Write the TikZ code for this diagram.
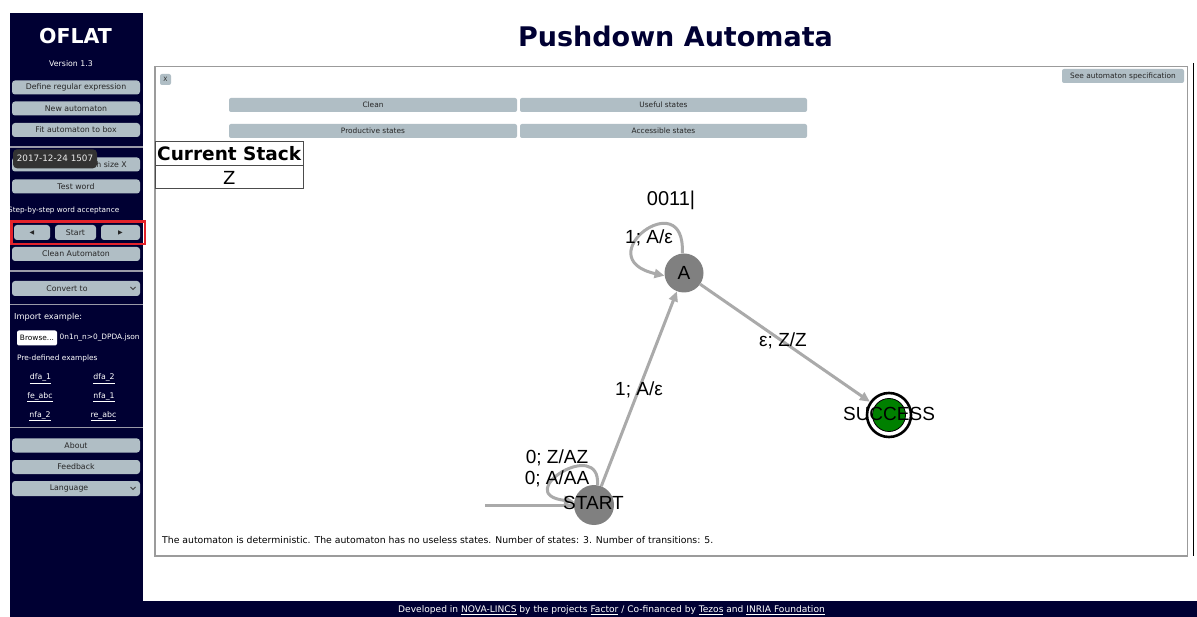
\documentclass[tikz,border=0pt]{standalone}
\usepackage{fontspec}
\setmainfont{DejaVu Sans}
\newfontfamily\graphfont{Liberation Sans}
\usetikzlibrary{arrows.meta}
\definecolor{navy}{HTML}{000033}
\definecolor{btncol}{HTML}{B0BEC5}
\definecolor{edgecol}{HTML}{AAAAAA}
\definecolor{statecol}{HTML}{808080}
\definecolor{acccol}{HTML}{008000}
\definecolor{sepcol}{HTML}{9A9AA8}
\definecolor{boxcol}{HTML}{9B9B9B}
\definecolor{tipcol}{HTML}{333333}
\definecolor{redbox}{HTML}{E3222B}
\tikzset{
  sbtn/.style={fill=btncol, rounded corners=3pt, inner sep=0pt, minimum width=128pt,
    minimum height=14pt, font=\fontsize{7.8}{9}\selectfont, text=black!85},
  pbtn/.style={fill=btncol, rounded corners=2pt, inner sep=0pt, minimum height=14pt,
    font=\fontsize{7.4}{9}\selectfont, text=black!85},
  sidetext/.style={text=white, inner sep=0pt, font=\fontsize{7.8}{9}\selectfont},
  sidelink/.style={text=white, inner sep=0pt, font=\fontsize{7.8}{9}\selectfont},
  sep/.style={draw=sepcol, line width=1.5pt},
  state/.style={circle, fill=statecol, minimum size=39pt, inner sep=0pt},
  edge/.style={draw=edgecol, line width=3pt, -{Triangle[length=10pt, width=9pt]}},
  plainedge/.style={draw=edgecol, line width=3pt},
  lbl/.style={inner sep=0pt, font=\graphfont\fontsize{19}{22}\selectfont, text=black},
}
\begin{document}
\begin{tikzpicture}[x=1pt, y=-1pt]
\useasboundingbox (0,0) rectangle (1197,617);
\fill[white] (0,0) rectangle (1197,617);

% sidebar and footer band
\fill[navy] (10,13) rectangle (143,617);
\fill[navy] (10,601) rectangle (1197,617);

\node[text=white, font=\bfseries\fontsize{20.5}{24}\selectfont, inner sep=0pt] (brand) at (75.5,36) {OFLAT};
\node[sidetext] (ver) at (71,64) {Version 1.3};

\node[sbtn] (defre) at (76,87.5) {Define regular expression};
\node[sbtn] (newaut) at (76,108.5) {New automaton};
\node[sbtn] (fitbox) at (76,130) {Fit automaton to box};
\draw[sep] (10,147) -- (143,147);
\node[sbtn] (gen) at (76,164.5) {};
\node[inner sep=0pt, anchor=east, font=\fontsize{7.8}{9}\selectfont, text=black!85] (gentxt) at (127,164.5) {h size X};
\node[sbtn] (testw) at (76,186.5) {Test word};
\node[sidetext, anchor=east, font=\fontsize{7.3}{9}\selectfont] (steptxt) at (119.5,210) {Step-by-step word acceptance};

\node[sbtn, minimum width=36pt, minimum height=15pt] (prev) at (32,232.5) {\fontsize{6}{7}\selectfont ◀};
\node[sbtn, minimum width=41pt, minimum height=15pt] (startbtn) at (75.5,232.5) {Start};
\node[sbtn, minimum width=39pt, minimum height=15pt] (next) at (120.5,232.5) {\fontsize{6}{7}\selectfont ▶};
\draw[redbox, line width=2.2pt] (11.5,221.5) rectangle (145,244);

\node[sbtn] (cleanaut) at (76,254) {Clean Automaton};
\draw[sep] (10,271) -- (143,271);
\node[sbtn, minimum height=15pt] (convert) at (76,288.5) {};
\node[inner sep=0pt, font=\fontsize{7.8}{9}\selectfont, text=black!85] (convtxt) at (67,288.5) {Convert to};
\draw[black!75, line width=1pt] (130.5,287) -- (133,289.5) -- (135.5,287);
\draw[sep] (10,304.5) -- (143,304.5);

\node[sidetext, anchor=west, font=\fontsize{8.2}{9}\selectfont] (imp) at (14,317) {Import example:};
\node[fill=white, rounded corners=2pt, minimum width=40pt, minimum height=15pt, inner sep=0pt,
  font=\fontsize{7.4}{9}\selectfont] (browse) at (37,338) {Browse...};
\node[sidetext, anchor=west, font=\fontsize{7.4}{9}\selectfont] (fname) at (59.5,338) {0n1n\_n>0\_DPDA.json};
\node[sidetext, anchor=west, font=\fontsize{7.4}{9}\selectfont] (predef) at (17,358.5) {Pre-defined examples};
\node[sidelink] (ex1) at (40.5,378.5) {\underline{dfa\_1}};
\node[sidelink] (ex2) at (104,378.5) {\underline{dfa\_2}};
\node[sidelink] (ex3) at (40,397) {\underline{fe\_abc}};
\node[sidelink] (ex4) at (104,397) {\underline{nfa\_1}};
\node[sidelink] (ex5) at (40,416) {\underline{nfa\_2}};
\node[sidelink] (ex6) at (103.5,416) {\underline{re\_abc}};
\draw[sep] (10,427.5) -- (143,427.5);

\node[sbtn] (about) at (76,445.5) {About};
\node[sbtn] (feedback) at (76,467) {Feedback};
\node[sbtn, minimum height=15pt] (lang) at (76,488.5) {};
\node[inner sep=0pt, font=\fontsize{7.8}{9}\selectfont, text=black!85] (langtxt) at (69,488.5) {Language};
\draw[black!75, line width=1pt] (130.5,487) -- (133,489.5) -- (135.5,487);

% tooltip over the sidebar
\node[fill=tipcol, rounded corners=4pt, minimum width=84pt, minimum height=19pt, inner sep=0pt,
  text=white!92!black, font=\fontsize{8.8}{10}\selectfont] (tip) at (55,158.8) {2017-12-24 1507};

% white margin on the left edge
\fill[white] (0,0) rectangle (10,617);

% page title
\node[text=navy, font=\bfseries\fontsize{27}{30}\selectfont, inner sep=0pt] (title) at (675.5,36) {Pushdown Automata};

% right-hand rule
\draw[black, line width=1.3pt] (1193.3,63) -- (1193.3,556);

% main panel
\draw[boxcol, line width=1.5pt] (155,66.5) rectangle (1187.5,556);
\node[pbtn, minimum width=11pt, minimum height=11pt, font=\fontsize{6}{7}\selectfont] (close) at (165.5,79.5) {X};
\node[pbtn, minimum width=122pt] (spec) at (1123,76) {See automaton specification};
\node[pbtn, minimum width=288pt] (clean) at (373,105) {Clean};
\node[pbtn, minimum width=287pt] (useful) at (663.5,105) {Useful states};
\node[pbtn, minimum width=288pt] (prod) at (373,131) {Productive states};
\node[pbtn, minimum width=287pt] (access) at (663.5,131) {Accessible states};

% current stack table
\draw[black!70, line width=1pt] (155.5,141.5) rectangle (303,189) (155.5,166) -- (303,166);
\node[inner sep=0pt, font=\bfseries\fontsize{18.5}{21}\selectfont] (stackhead) at (229.2,154) {Current Stack};
\node[inner sep=0pt, font=\fontsize{18}{21}\selectfont] (stacktop) at (229.2,177.5) {Z};

% input word with cursor
\node[lbl, font=\graphfont\fontsize{20}{22}\selectfont] (word) at (671,200) {0011|};

% automaton states
\node[state] (a) at (684,273) {};
\node[state, minimum size=40pt] (start) at (594,505) {};
\node[circle, draw=black, line width=2.6pt, fill=white, minimum size=44pt, inner sep=0pt] (succ) at (889,415) {};
\node[circle, draw=black, line width=0.8pt, fill=acccol, minimum size=33pt, inner sep=0pt] (succin) at (889,415) {};
\coordinate (init) at (485,505);

% transitions
\draw[plainedge] (init) -- (start.180);
\draw[edge] (start.80) .. controls (601,436) and (510,494) .. (start.170);
\draw[edge] (start) -- (a);
\draw[edge] (a.95) .. controls (686,182) and (586,258) .. (a.188);
\draw[edge] (a) -- (succ);

% state names, set above the transitions
\node[lbl] (aname) at (a) {A};
\node[lbl] (startname) at (593.5,503) {START};
\node[lbl] (succname) at (889,414) {SUCCESS};

% transition labels
\node[lbl] (lstart1) at (557,458) {0; Z/AZ};
\node[lbl] (lstart2) at (557,479) {0; A/AA};
\node[lbl] (lsa) at (639,390) {1; A/ε};
\node[lbl] (laa) at (649,238) {1; A/ε};
\node[lbl] (las) at (783,341) {ε; Z/Z};

% status line
\node[inner sep=0pt, anchor=west, font=\fontsize{9.3}{11}\selectfont] (status) at (162,540)
  {The automaton is deterministic. The automaton has no useless states. Number of states: 3. Number of transitions: 5.};

% footer
\node[inner sep=0pt, text=white, font=\fontsize{9.1}{11}\selectfont] (footer) at (611.5,610.5)
  {Developed in \underline{NOVA-LINCS} by the projects \underline{Factor} / Co-financed by \underline{Tezos} and \underline{INRIA Foundation}};
\end{tikzpicture}
\end{document}
